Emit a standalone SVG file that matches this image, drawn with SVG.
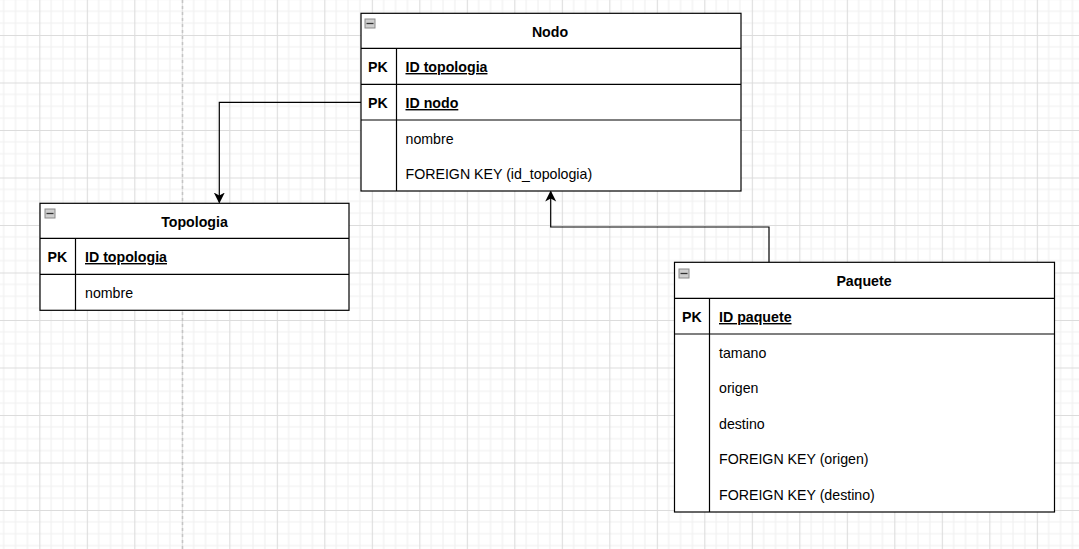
<svg xmlns="http://www.w3.org/2000/svg" width="1079" height="549" viewBox="0 0 1079 549">
<defs>
<pattern id="grid" x="39.3" y="35" width="47.5" height="47.5" patternUnits="userSpaceOnUse">
<path d="M11.875 0V47.5M23.75 0V47.5M35.625 0V47.5M0 11.875H47.5M0 23.75H47.5M0 35.625H47.5" stroke="#f0f0f0" stroke-width="1.2" fill="none"/>
<path d="M0.5 0V47.5M0 0.5H47.5" stroke="#dcdcdc" stroke-width="1.2" fill="none"/>
</pattern>
<marker id="arrow" markerWidth="11" markerHeight="12" refX="10" refY="6" orient="auto" markerUnits="userSpaceOnUse" viewBox="0 0 11 12">
<path d="M0 0.5L11 6L0 11.5L3 6Z" fill="#000"/>
</marker>
<g id="minus">
<rect x="0.5" y="0.5" width="10" height="9" fill="#cfcfcf" stroke="#8a8a8a" stroke-width="1"/>
<line x1="2" y1="5" x2="9" y2="5" stroke="#333" stroke-width="1.3"/>
</g>
</defs>
<style>
.box{fill:#fff;stroke:#000;stroke-width:1.2}
.ln{stroke:#000;stroke-width:1.2;fill:none}
text{font-family:"Liberation Sans",Arial,Helvetica,sans-serif;font-size:14.2px;fill:#000}
.title{font-weight:bold;text-anchor:middle}
.pk{font-weight:bold}
.key{font-weight:bold;text-decoration:underline}
.conn{stroke:#000;stroke-width:1.2;fill:none}
</style>
<rect width="1079" height="549" fill="#fff"/>
<rect width="1079" height="549" fill="url(#grid)"/>
<line x1="182.5" y1="0" x2="182.5" y2="549" stroke="#c4c4c4" stroke-width="1.5" stroke-dasharray="3,3"/>

<g id="connectors">
<path class="conn" d="M361 102.3H219.3V202.5" marker-end="url(#arrow)"/>
<path class="conn" d="M769 262.3V227H550.7V191.5" marker-end="url(#arrow)"/>
</g>

<g id="nodo">
<rect class="box" x="361" y="13.3" width="380" height="177.7"/>
<path class="ln" d="M361 48.3H741M361 84.3H741M361 120H741M396.5 48.3V191"/>
<use href="#minus" x="364.5" y="18.5"/>
<text class="title" x="550" y="36.5">Nodo</text>
<text class="pk" x="368" y="72">PK</text>
<text class="key" x="405.5" y="72">ID topologia</text>
<text class="pk" x="368" y="108">PK</text>
<text class="key" x="405.5" y="108">ID nodo</text>
<text x="405.5" y="143.6">nombre</text>
<text x="405.5" y="179.2">FOREIGN KEY (id_topologia)</text>
</g>

<g id="topologia">
<rect class="box" x="40" y="203.3" width="309" height="107"/>
<path class="ln" d="M40 238.3H349M40 274.3H349M75.5 238.3V310.3"/>
<use href="#minus" x="44.5" y="208.5"/>
<text class="title" x="194.5" y="226.5">Topologia</text>
<text class="pk" x="47.5" y="262">PK</text>
<text class="key" x="85" y="262">ID topologia</text>
<text x="85" y="298">nombre</text>
</g>

<g id="paquete">
<rect class="box" x="674.5" y="262.3" width="380" height="249.7"/>
<path class="ln" d="M674.5 298.3H1054.5M674.5 334H1054.5M709.5 298.3V512"/>
<use href="#minus" x="678.5" y="268.5"/>
<text class="title" x="864" y="286">Paquete</text>
<text class="pk" x="682" y="322">PK</text>
<text class="key" x="719" y="322">ID paquete</text>
<text x="719" y="357.6">tamano</text>
<text x="719" y="393.2">origen</text>
<text x="719" y="428.8">destino</text>
<text x="719" y="464.4">FOREIGN KEY (origen)</text>
<text x="719" y="500">FOREIGN KEY (destino)</text>
</g>
</svg>
